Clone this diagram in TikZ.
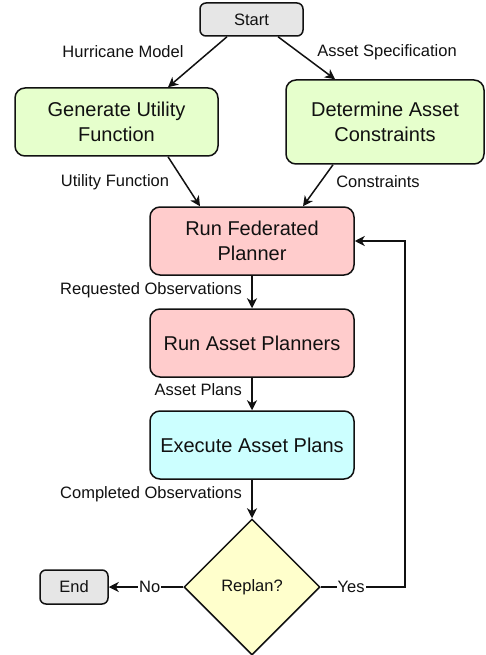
\documentclass[tikz,border=0pt]{standalone}
\usepackage{fontspec}
\setmainfont{Liberation Sans}
\usetikzlibrary{shapes.geometric,arrows.meta}
\definecolor{greenfill}{HTML}{E6FFCC}
\definecolor{redfill}{HTML}{FFCCCC}
\definecolor{cyanfill}{HTML}{CCFFFF}
\definecolor{yellowfill}{HTML}{FFFFCC}
\definecolor{grayfill}{HTML}{E6E6E6}
\definecolor{ink}{HTML}{111111}
\begin{document}
\begin{tikzpicture}[x=1pt,y=-1pt,
  every node/.style={text=ink},
  proc/.style={draw=ink, line width=1.5pt, rounded corners=10pt, align=center,
    inner sep=0pt, font=\fontsize{20}{24.5}\selectfont},
  term/.style={draw=ink, line width=1.5pt, rounded corners=6pt, fill=grayfill,
    inner sep=0pt, font=\fontsize{16.5}{19}\selectfont},
  decision/.style={draw=ink, line width=1.5pt, diamond, aspect=1, fill=yellowfill,
    inner sep=0pt, minimum width=136pt, minimum height=136pt,
    font=\fontsize{16.5}{19}\selectfont},
  lbl/.style={inner sep=1pt, font=\fontsize{16.5}{19}\selectfont},
  flow/.style={draw=ink, line width=1.5pt, -{Stealth[length=10pt,width=10pt,inset=3pt]}},
  plain/.style={draw=ink, line width=1.5pt}
]
\useasboundingbox (0,0) rectangle (485,655);

% process boxes
\node[term, minimum width=103pt, minimum height=33pt] (start) at (251.5,19.5) {Start};
\node[proc, fill=greenfill, minimum width=203pt, minimum height=68pt] (gen) at (116.5,122) {Generate Utility\\Function};
\node[proc, fill=greenfill, minimum width=198pt, minimum height=84pt] (det) at (385,122) {Determine Asset\\Constraints};
\node[proc, fill=redfill, minimum width=204pt, minimum height=68pt] (fed) at (252,241) {Run Federated\\Planner};
\node[proc, fill=redfill, minimum width=204pt, minimum height=68pt] (ap) at (252,343) {Run Asset Planners};
\node[proc, fill=cyanfill, minimum width=204pt, minimum height=68pt] (ex) at (252,445) {Execute Asset Plans};
\node[decision] (rep) at (252,587) {Replan?};
\node[term, minimum width=68pt, minimum height=34pt] (end) at (74,587) {End};
\coordinate (loop) at (405,587);

% connectors
\draw[flow] ([xshift=-24.5pt]start.south) -- ([xshift=51.5pt]gen.north);
\draw[flow] ([xshift=26.5pt]start.south) -- ([xshift=-50pt]det.north);
\draw[flow] ([xshift=51.5pt]gen.south) -- ([xshift=-52pt]fed.north);
\draw[flow] ([xshift=-52pt]det.south) -- ([xshift=51pt]fed.north);
\draw[flow] (fed) -- (ap);
\draw[flow] (ap) -- (ex);
\draw[flow] (ex) -- (rep);
\draw[flow] (rep.west) -- node[lbl, fill=white, pos=0.45] (nolbl) {No} (end.east);
\draw[flow] (rep.east) -- node[lbl, fill=white, pos=0.36] (yeslbl) {Yes} (loop) |- (fed.east);

% edge labels
\node[lbl] (hm) at (123,52) {Hurricane Model};
\node[lbl] (as) at (387,52) {Asset Specification};
\node[lbl] (uf) at (115,182) {Utility Function};
\node[lbl] (cs) at (378,182) {Constraints};
\node[lbl, anchor=east] (ro) at (243,290) {Requested Observations};
\node[lbl, anchor=east] (apl) at (243,390) {Asset Plans};
\node[lbl, anchor=east] (co) at (243,494) {Completed Observations};
\end{tikzpicture}
\end{document}
